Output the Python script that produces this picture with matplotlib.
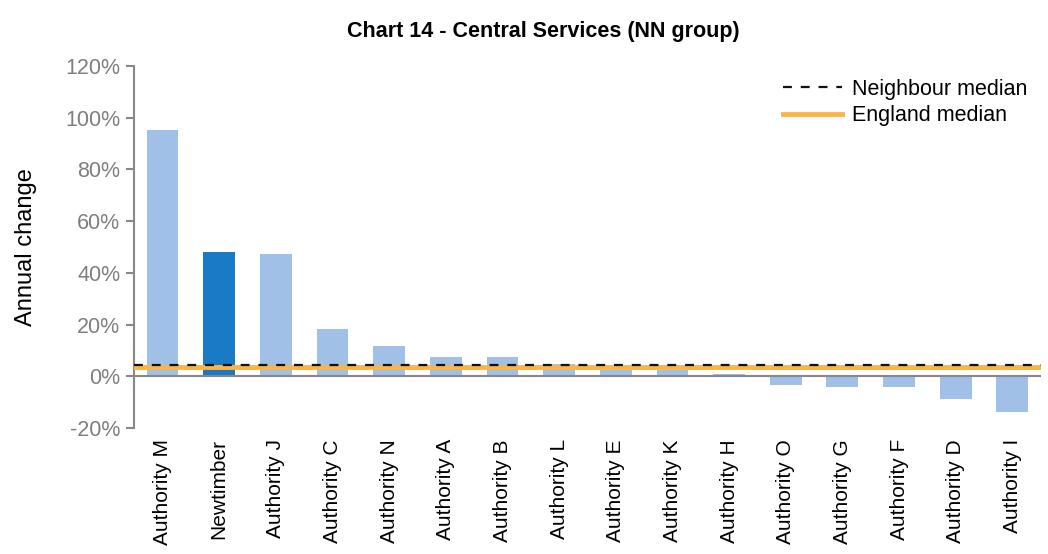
import matplotlib
matplotlib.use("Agg")
import matplotlib.pyplot as plt
from matplotlib.ticker import FuncFormatter

plt.rcParams['font.family'] = ['Liberation Sans', 'DejaVu Sans']

categories = ["Authority M", "Newtimber", "Authority J", "Authority C", "Authority N",
              "Authority A", "Authority B", "Authority L", "Authority E", "Authority K",
              "Authority H", "Authority O", "Authority G", "Authority F", "Authority D",
              "Authority I"]
values = [95.2, 48.0, 47.2, 18.2, 11.6, 7.4, 7.4, 4.6, 2.6, 2.6, 1.0, -3.4, -4.3, -4.3, -8.8, -13.9]
highlight = "Newtimber"
neighbour_median = 4.3
england_median = 3.5
yticks = [-20, 0, 20, 40, 60, 80, 100, 120]

light = "#A0C0E8"
dark = "#1A7AC5"
orange = "#FBB447"
grey = "#888888"

fig = plt.figure(figsize=(10.48, 5.54), dpi=100)
ax = fig.add_axes([0.128, 0.2274, 0.865, 0.6535])

x = list(range(len(categories)))
colors = [dark if c == highlight else light for c in categories]
ax.bar(x, values, width=0.56, color=colors, zorder=2)

ax.set_xlim(-0.5, len(categories) - 0.5)
ax.set_ylim(-20, 120)
ax.axhline(0, color=grey, lw=1.5, zorder=3)
ax.axhline(england_median, color=orange, lw=3.5, zorder=4, label="England median")
ax.axhline(neighbour_median, color="#111111", lw=1.6, ls=(0, (4, 4)), zorder=5,
           label="Neighbour median")

ax.set_yticks(yticks)
ax.yaxis.set_major_formatter(FuncFormatter(lambda v, p: f"{int(v)}%"))
ax.tick_params(axis='y', colors=grey, labelsize=15.5, length=6, width=1.5, pad=4)
ax.tick_params(axis='y', labelcolor="#7f7f7f")
ax.set_xticks(x)
ax.set_xticklabels(categories, rotation=90, fontsize=15, color="black")
ax.tick_params(axis='x', length=0, pad=8)

for s in ['top', 'right', 'bottom']:
    ax.spines[s].set_visible(False)
ax.spines['left'].set_color(grey)
ax.spines['left'].set_linewidth(1.5)

ax.set_ylabel("Annual change", fontsize=17, color="black", labelpad=20)
fig.text(0.518, 0.944, "Chart 14 - Central Services (NN group)", ha='center', va='center',
         fontsize=15.5, fontweight='bold')

handles, labels = ax.get_legend_handles_labels()
leg = ax.legend(handles[::-1], labels[::-1], loc='upper right', bbox_to_anchor=(1.0, 1.0),
                frameon=False, fontsize=15.5, handlelength=2.7, handletextpad=0.5,
                labelspacing=0.25, borderaxespad=0.2)

fig.savefig("out.png", dpi=100)
